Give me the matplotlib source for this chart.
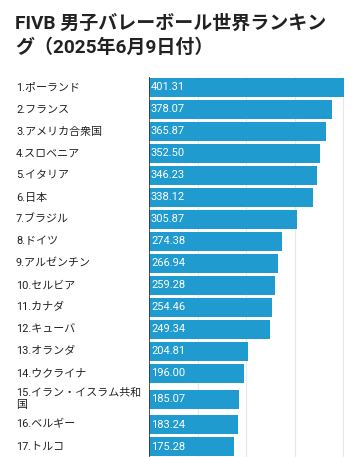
import matplotlib

matplotlib.use("Agg")
import matplotlib.pyplot as plt

plt.rcParams["font.family"] = ["Roboto", "Noto Sans CJK JP", "DejaVu Sans"]

title = "FIVB 男子バレーボール世界ランキン\nグ（2025年6月9日付）"
countries = [
    "ポーランド", "フランス", "アメリカ合衆国", "スロベニア", "イタリア", "日本",
    "ブラジル", "ドイツ", "アルゼンチン", "セルビア", "カナダ", "キューバ",
    "オランダ", "ウクライナ", "イラン・イスラム共和\n国", "ベルギー", "トルコ",
]
points = [
    401.31, 378.07, 365.87, 352.50, 346.23, 338.12, 305.87, 274.38, 266.94,
    259.28, 254.46, 249.34, 204.81, 196.00, 185.07, 183.24, 175.28,
]
x_ticks = [0, 100, 200, 300, 400]

W, H = 360, 457
BAR_COLOR = "#1f9bd0"

fig = plt.figure(figsize=(W / 100, H / 100), dpi=100)

# axes in pixel units so that row heights can vary (two-line label is taller)
top_px, left_px, right_px = 76.5, 149, 344
ax = fig.add_axes([left_px / W, 0, (right_px - left_px) / W, (H - top_px) / H])

row_h = [22] * len(countries)
row_h[14] = 29
centers = []
y = top_px
for h in row_h:
    centers.append(y + h / 2)
    y += h

ax.barh(centers, points, height=19, color=BAR_COLOR, zorder=2)
ax.set_xlim(0, 402)
ax.set_ylim(H, top_px)
for t in x_ticks[1:]:
    ax.axvline(t, color="#e8e8e8", lw=0.8, zorder=1)
ax.axvline(0, color="#333333", lw=1.2, zorder=3)

for c, v in zip(centers, points):
    ax.text(4, c, f"{v:.2f}", color="white", fontsize=8, va="center", ha="left", zorder=4)

for i, (c, name) in enumerate(zip(centers, countries)):
    fig.text(16 / W, 1 - c / H, f"{i + 1}.{name}", fontsize=7.9, color="#222222",
             va="center", ha="left", linespacing=1.2)

for s in ax.spines.values():
    s.set_visible(False)
ax.set_xticks([])
ax.set_yticks([])

fig.text(15 / W, 1 - 36 / H, title, fontsize=13.7, fontweight="bold", color="#222222",
         va="center", ha="left", linespacing=1.4)

fig.savefig("out.png", dpi=100)
